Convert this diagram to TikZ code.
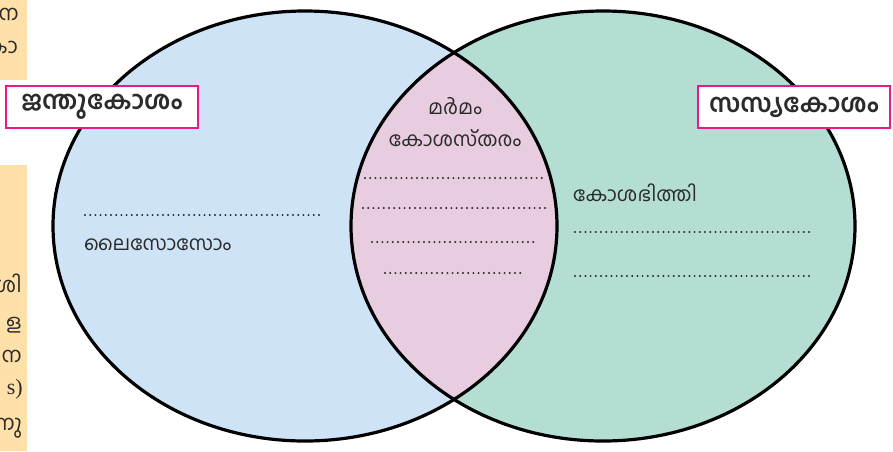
\documentclass[tikz,border=0pt]{standalone}
\usepackage{fontspec}
\newfontfamily\ml[Script=Malayalam]{Hind Kochi}
\setmainfont{Liberation Serif}
\definecolor{leftfill}{HTML}{CFE3F7}
\definecolor{rightfill}{HTML}{B4DED4}
\definecolor{lensfill}{HTML}{E8CCE0}
\definecolor{peach}{HTML}{FFE0A8}
\definecolor{magentab}{HTML}{E8198B}
\definecolor{txt}{HTML}{2B2B2B}
\tikzset{
  outline/.style={draw=black, line width=3.2pt},
  labelbox/.style={draw=magentab, line width=2.4pt, fill=white, minimum height=42pt, inner sep=0pt, font=\ml\bfseries\fontsize{25.5}{28}\selectfont, text=txt},
  mltext/.style={font=\ml\fontsize{20}{24}\selectfont, text=txt, inner sep=0pt},
  stripfont/.style={font=\ml\fontsize{21}{24}\selectfont, text=txt, inner sep=0pt, anchor=east},
  dots/.style={draw=txt, line width=2.2pt, line cap=round, dash pattern=on 0pt off 5.2pt}
}
\begin{document}
\begin{tikzpicture}[x=1pt,y=-1pt]
\useasboundingbox (0,0) rectangle (893,451);
% page strips on the left
\fill[peach] (0,0) rectangle (27,80);
\fill[peach] (0,165) rectangle (27,451);
\begin{scope}
\clip (0,0) rectangle (27,451);
\node[stripfont] (s1) at (19,14) {മന};
\node[stripfont] (s2) at (18,47) {കാ};
\node[stripfont] (s3) at (22,283) {ശി};
\node[stripfont] (s4) at (22,325) {ള};
\node[stripfont] (s5) at (22,356) {ന};
\node[font=\fontsize{22}{24}\selectfont, text=txt, inner sep=0pt, anchor=east] (s6) at (23,389) {s)};
\node[stripfont] (s7) at (22,428) {ന്നു};
\end{scope}
% ellipses
\fill[leftfill] (305,226) ellipse [x radius=252, y radius=215];
\fill[rightfill] (603,226) ellipse [x radius=252, y radius=215];
\begin{scope}
\clip (305,226) ellipse [x radius=252, y radius=215];
\fill[lensfill] (603,226) ellipse [x radius=252, y radius=215];
\end{scope}
\draw[outline] (305,226) ellipse [x radius=252, y radius=215];
\draw[outline] (603,226) ellipse [x radius=252, y radius=215];
% label boxes
\node[labelbox, minimum width=192pt] (animal) at (102,107) {ജന്തുകോശം};
\node[labelbox, minimum width=192pt] (plant) at (794,107) {സസ്യകോശം};
% lens text
\node[mltext] (nuc) at (455,106) {മർമം};
\node[mltext] (mem) at (455,138) {കോശസ്തരം};
\coordinate (l1a) at (365,178); \coordinate (l1b) at (545,178);
\coordinate (l2a) at (363,208); \coordinate (l2b) at (545,208);
\coordinate (l3a) at (372,242); \coordinate (l3b) at (537,242);
\coordinate (l4a) at (385,273); \coordinate (l4b) at (523,273);
\draw[dots] (l1a) -- (l1b);
\draw[dots] (l2a) -- (l2b);
\draw[dots] (l3a) -- (l3b);
\draw[dots] (l4a) -- (l4b);
% left text
\coordinate (a1a) at (85,215); \coordinate (a1b) at (322,215);
\draw[dots] (a1a) -- (a1b);
\node[mltext, anchor=west] (lyso) at (84,245) {ലൈസോസോം};
% right text
\node[mltext, anchor=west] (wall) at (573,193) {കോശഭിത്തി};
\coordinate (p1a) at (575,232); \coordinate (p1b) at (810,232);
\coordinate (p2a) at (575,276); \coordinate (p2b) at (810,276);
\draw[dots] (p1a) -- (p1b);
\draw[dots] (p2a) -- (p2b);
\end{tikzpicture}
\end{document}
